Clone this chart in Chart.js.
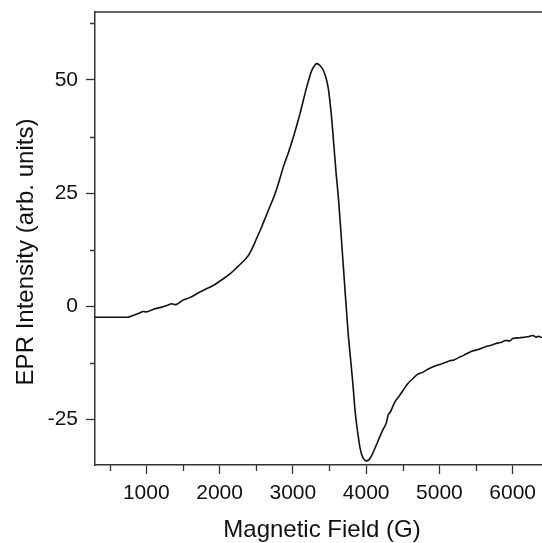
<!DOCTYPE html>
<html>
<head>
<meta charset="utf-8">
<script src="https://cdn.jsdelivr.net/npm/chart.js@4/dist/chart.umd.min.js"></script>
<style>
  html, body { margin: 0; padding: 0; background: #fff; }
  #wrap { width: 542px; height: 543px; }
</style>
</head>
<body>
<div id="wrap"><canvas id="c" width="542" height="543"></canvas></div>
<script>
// Magnetic field (G)
const fieldG = [300,500,740,800,900,960,1000,1100,1200,1280,1350,1400,1500,1600,1700,1820,1900,2050,2150,2230,2300,2390,2450,2505,2560,2618,2680,2732,2800,2868,2940,3005,3050,3095,3140,3187,3220,3255,3290,3323,3370,3414,3450,3482,3505,3530,3550,3590,3625,3660,3700,3755,3790,3823,3846,3870,3891,3914,3936,3960,4000,4040,4073,4120,4186,4230,4277,4300,4330,4391,4450,4505,4570,4641,4700,4777,4850,4914,5005,5080,5141,5200,5260,5330,5400,5460,5530,5595,5650,5720,5790,5850,5900,5960,6000,6100,6200,6277,6320,6350,6400];
// EPR intensity (arb. units)
const eprIntensity = [-2.4,-2.4,-2.4,-2.1,-1.5,-1.1,-1.2,-0.6,-0.2,0.2,0.6,0.4,1.4,2.0,2.9,3.9,4.5,6.1,7.3,8.5,9.6,11.2,13.0,15.0,17.0,19.3,21.8,23.8,27.0,30.7,34.0,37.3,39.8,42.4,45.3,48.3,50.2,52.0,53.0,53.6,53.2,52.2,50.6,48.3,45.4,41.5,37.5,29.5,23.3,15.5,6.3,-6.0,-12.0,-17.8,-22.5,-26.0,-28.5,-31.0,-32.5,-33.5,-34.1,-33.8,-33.0,-31.3,-28.8,-27.2,-25.6,-24.0,-23.3,-21.1,-19.8,-18.5,-17.0,-15.9,-15.0,-14.5,-13.8,-13.3,-12.8,-12.4,-12.0,-11.8,-11.3,-10.8,-10.2,-9.8,-9.5,-9.1,-8.8,-8.5,-8.1,-7.9,-7.5,-7.6,-7.1,-6.9,-6.7,-6.4,-6.8,-6.6,-6.9];

const xMajorTicks = [1000,2000,3000,4000,5000,6000];
const xMinorTicks = [500,1500,2500,3500,4500,5500];
const yMajorTicks = [-25,0,25,50];
const yMinorTicks = [-12.5,12.5,37.5,62.5];

const xTitle = 'Magnetic Field (G)';
const yTitle = 'EPR Intensity (arb. units)';

const axisColor = '#333';
const fontFamily = '"Liberation Sans", Arial, Helvetica, sans-serif';

const extras = {
  id: 'extras',
  afterDraw(chart) {
    const ctx = chart.ctx;
    const xs = chart.scales.x, ys = chart.scales.y;
    const a = chart.chartArea;
    ctx.save();
    ctx.strokeStyle = axisColor;
    ctx.lineWidth = 1.5;
    // top frame line
    ctx.beginPath();
    ctx.moveTo(a.left, a.top);
    ctx.lineTo(a.right, a.top);
    ctx.stroke();
    // minor ticks
    ctx.lineWidth = 1.3;
    ctx.beginPath();
    xMinorTicks.forEach(v => {
      const px = Math.round(xs.getPixelForValue(v)) + 0.5;
      ctx.moveTo(px, a.bottom);
      ctx.lineTo(px, a.bottom + 6);
    });
    yMinorTicks.forEach(v => {
      const py = Math.round(ys.getPixelForValue(v)) + 0.5;
      ctx.moveTo(a.left, py);
      ctx.lineTo(a.left - 5, py);
    });
    ctx.stroke();
    // axis titles
    ctx.fillStyle = '#111';
    ctx.font = '24px ' + fontFamily;
    ctx.textAlign = 'center';
    ctx.textBaseline = 'middle';
    ctx.fillText(xTitle, 322, 530);
    ctx.translate(26, 252);
    ctx.rotate(-Math.PI / 2);
    ctx.fillText(yTitle, 0, 0);
    ctx.restore();
  }
};

new Chart(document.getElementById('c'), {
  type: 'line',
  data: {
    datasets: [{
      data: fieldG.map((f, i) => ({x: f, y: eprIntensity[i]})),
      borderColor: '#111',
      borderWidth: 1.6,
      pointRadius: 0,
      fill: false,
      cubicInterpolationMode: 'monotone'
    }]
  },
  options: {
    responsive: false,
    animation: false,
    devicePixelRatio: 1,
    layout: { padding: { top: 12, right: 0, left: 0, bottom: 0 } },
    plugins: { legend: { display: false }, tooltip: { enabled: false } },
    scales: {
      x: {
        type: 'linear',
        min: 300,
        max: 6400,
        afterBuildTicks(s) { s.ticks = xMajorTicks.map(v => ({value: v})); },
        afterFit(s) { s.height = 78; s.paddingLeft = 0; s.paddingRight = 0; },
        grid: { drawOnChartArea: false, drawTicks: true, tickLength: 9, tickColor: axisColor, tickWidth: 1.3 },
        border: { display: true, color: axisColor, width: 1.5 },
        ticks: { color: '#111', padding: 7, maxRotation: 0, autoSkip: false, font: { family: fontFamily, size: 21 },
                 callback: v => String(v) },
        title: { display: false }
      },
      y: {
        type: 'linear',
        min: -35,
        max: 65,
        afterBuildTicks(s) { s.ticks = yMajorTicks.map(v => ({value: v})); },
        afterFit(s) { s.width = 95; s.paddingTop = 0; s.paddingBottom = 0; },
        grid: { drawOnChartArea: false, drawTicks: true, tickLength: 9, tickColor: axisColor, tickWidth: 1.3 },
        border: { display: true, color: axisColor, width: 1.5 },
        ticks: { color: '#111', padding: 8, autoSkip: false, font: { family: fontFamily, size: 21 },
                 callback: v => String(v) },
        title: { display: false }
      }
    }
  },
  plugins: [extras]
});
</script>
</body>
</html>
